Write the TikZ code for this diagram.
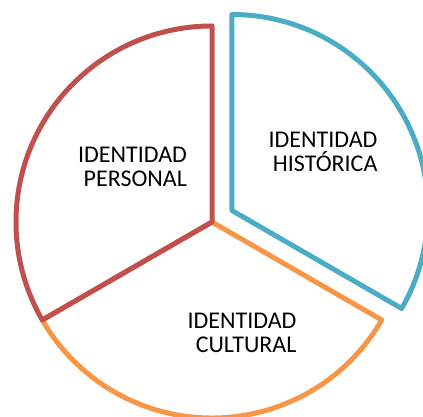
\documentclass[tikz,border=0pt]{standalone}
\usepackage{fontspec}
\setmainfont{Carlito}
\usepackage{xcolor}
\usetikzlibrary{positioning}

\definecolor{piered}{HTML}{C0504D}
\definecolor{pieblue}{HTML}{4BACC6}
\definecolor{pieorange}{HTML}{F79646}

\tikzset{
  slice/.style={line width=5pt, line join=round},
  slicetext/.style={align=right, inner sep=0pt, font=\fontsize{24}{24}\selectfont}
}

\begin{document}
\begin{tikzpicture}[x=1pt,y=1pt]
  \useasboundingbox (0,0) rectangle (423,417);
  \coordinate (O1) at (212,195);
  \def\radius{196}
  \def\shift{23}

  % exploded slice
  \path (O1) ++(30:\shift) coordinate (O2);

  % cultural
  \draw[slice, pieorange] (O1) -- ++(330:\radius) arc[start angle=330, end angle=210, radius=\radius] -- cycle;
  % personal
  \draw[slice, piered] (O1) -- ++(90:\radius) arc[start angle=90, end angle=210, radius=\radius] -- cycle;
  % historica
  \draw[slice, pieblue] (O2) -- ++(90:\radius) arc[start angle=90, end angle=-30, radius=\radius] -- cycle;

  \node[slicetext] (personal) at (132.5,250) {IDENTIDAD\\PERSONAL};
  \node[slicetext] (historica) at (323,265) {IDENTIDAD\\HISTÓRICA};
  \node[slicetext] (cultural) at (242,84) {IDENTIDAD\\CULTURAL};
\end{tikzpicture}
\end{document}
